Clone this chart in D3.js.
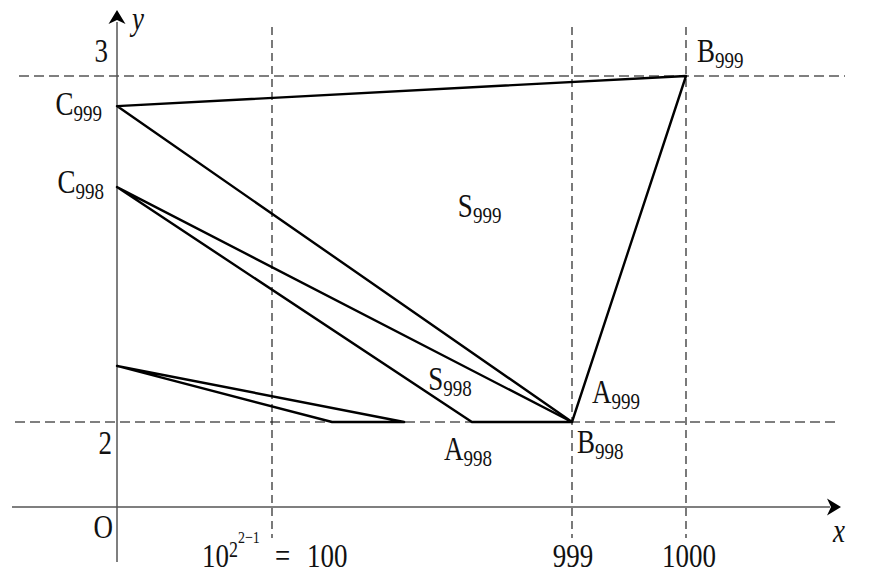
<!DOCTYPE html>
<html>
<head>
<meta charset="utf-8">
<script src="https://cdn.jsdelivr.net/npm/d3@7"></script>
<style>
body { margin: 0; background: #fff; }
text { font-family: "Liberation Serif", "DejaVu Serif", serif; fill: #111; }
</style>
</head>
<body>
<div class="container"></div>
<script>
// schematic picture, so the scales are piecewise
var xKnots = [0, 100, 999, 1000];
var yKnots = [0, 2, 3];

var xGuides = [100, 999, 1000];
var yGuides = [2, 3];

// vertices [x, y]
var C999 = [0, 2.913];
var C998 = [0, 2.679];
var C997 = [0, 2.162];
var B999 = [1000, 3];
var B998 = [999, 2];
var A998 = [699, 2];
var A997 = [280, 2];
var B997 = [496, 2];

var triangles = [
	[C999, B998, B999],
	[C998, A998, B998],
	[C997, A997, B997]
];

var opts = { width: 874, height: 575, vs: 1.26 };

var x = d3.scaleLinear().domain(xKnots).range([117, 272, 572, 686]);
var y = d3.scaleLinear().domain(yKnots).range([507, 422, 76]);

var svg = d3.select(".container")
	.append("svg")
	.attr("width", opts.width)
	.attr("height", opts.height);

// dashed guides
svg.selectAll(".hguide").data(yGuides).enter().append("line")
	.attr("x1", function(d){ return d == 3 ? 19 : 15; })
	.attr("x2", function(d){ return d == 3 ? 845 : 840; })
	.attr("y1", function(d){ return y(d); })
	.attr("y2", function(d){ return y(d); })
	.attr("stroke", "#555").attr("stroke-width", 1.4)
	.attr("stroke-dasharray", "10,5");

svg.selectAll(".vguide").data(xGuides).enter().append("line")
	.attr("x1", function(d){ return x(d); })
	.attr("x2", function(d){ return x(d); })
	.attr("y1", 27).attr("y2", 538)
	.attr("stroke", "#222").attr("stroke-width", 1.2)
	.attr("stroke-dasharray", "8,5");

// axes
svg.append("line").attr("x1", 12).attr("x2", 830).attr("y1", y(0)).attr("y2", y(0))
	.attr("stroke", "#555").attr("stroke-width", 1.5);
svg.append("line").attr("x1", x(0)).attr("x2", x(0)).attr("y1", 562).attr("y2", 22)
	.attr("stroke", "#555").attr("stroke-width", 1.5);

var arrow = "M0,0 L-14,-8.5 L-10,0 L-14,8.5 Z";
svg.append("path").attr("d", arrow).attr("fill", "#000")
	.attr("transform", "translate(841," + y(0) + ")");
svg.append("path").attr("d", arrow).attr("fill", "#000")
	.attr("transform", "translate(" + x(0) + ",10) rotate(-90)");

// triangles
var line = d3.line().x(function(d){ return x(d[0]); }).y(function(d){ return y(d[1]); });
svg.selectAll(".tri").data(triangles).enter().append("path")
	.attr("d", function(d){ return line(d) + "Z"; })
	.attr("fill", "none")
	.attr("stroke", "#000")
	.attr("stroke-width", 2.4)
	.attr("stroke-linejoin", "round");

// text is stretched a bit vertically like the original
var label = function(px, py, main, sub, anchor, italic){
	var t = svg.append("text")
		.attr("transform", "translate(" + px + "," + py + ") scale(1," + opts.vs + ")")
		.attr("text-anchor", anchor || "start")
		.style("font-size", "27px");
	if (italic) t.style("font-style", "italic");
	t.append("tspan").text(main);
	if (sub) t.append("tspan").attr("dy", 5).style("font-size", "19px").text(sub);
	return t;
};

label(x(C999[0]) - 15, y(C999[1]) + 9, "C", "999", "end");
label(x(C998[0]) - 13, y(C998[1]) + 6, "C", "998", "end");
label(x(B999[0]) + 11, y(B999[1]) - 14, "B", "999");
label(x(B998[0]) + 20, y(B998[1]) - 19, "A", "999");
label(x(B998[0]) + 5, y(B998[1]) + 31, "B", "998");
label(x(A998[0]) - 28, y(A998[1]) + 38, "A", "998");
label(x(657), y(2.592), "S", "999");
label(x(568), y(2.093), "S", "998");

label(x(0) - 9, y(3) - 14, "3", null, "end");
label(x(0) - 5, y(2) + 32, "2", null, "end");
label(x(0) - 4, y(0) + 31, "O", null, "end");
label(x(0) + 15, 30, "y", null, "start", true);
label(833, y(0) + 35, "x", null, "start", true);
label(x(999) + 1, 567, "999", null, "middle");
label(x(1000) + 3, 567, "1000", null, "middle");

var t = label(x(100) - 70, 567, "10", null, "start");
t.append("tspan").attr("dy", -8).style("font-size", "18px").text("2");
t.append("tspan").attr("dy", -11).style("font-size", "14px").text("2\u22121");
t.append("tspan").attr("x", 73).attr("dy", 19).style("font-size", "27px").text("=");
t.append("tspan").attr("x", 105).style("font-size", "27px").text("100");
</script>
</body>
</html>
